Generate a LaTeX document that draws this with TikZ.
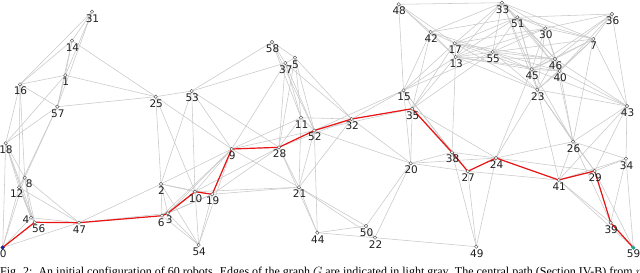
\documentclass[tikz,border=0pt]{standalone}
\usepackage{fontspec}
\newfontfamily\lblfont{DejaVu Sans}
\newfontfamily\capfont{Liberation Serif}
\definecolor{edgegray}{RGB}{200,200,200}
\definecolor{nodegray}{RGB}{95,95,95}
\definecolor{pathred}{RGB}{235,20,20}
\definecolor{startblue}{RGB}{20,30,150}
\definecolor{goalteal}{RGB}{30,170,150}
\begin{document}
\begin{tikzpicture}[x=1pt,y=-1pt,
  edge/.style={draw=edgegray, line width=0.55pt},
  cpath/.style={draw=pathred, line width=1.2pt, line join=round},
  rob/.style={circle, draw=nodegray, fill=white, line width=0.45pt, inner sep=0pt, minimum size=3.4pt},
  lbl/.style={font=\lblfont\fontsize{10.5}{12}\selectfont, inner sep=0pt, text=black!88},
  captext/.style={font=\capfont\fontsize{12}{14}\selectfont, inner sep=0pt, anchor=base west}]
\useasboundingbox (0,0) rectangle (640,273);
\clip (0,0) rectangle (640,273);
\def\robots{0/2.7/247.5/0.6/6.5, 1/65.3/75.3/0.5/6.6, 2/161/184/0.5/6.6, 3/167.7/213.3/1.6/6,
 4/31/217.7/-5/2.3, 5/295/57.7/0.5/6.6, 6/162/215.7/-0.7/7, 7/593.3/39/0.5/6.6,
 8/24.7/177.7/4.6/5.6, 9/231.7/149/0.5/6.6, 10/195/191.7/0.5/6.6, 11/301/117.7/0.5/6.6,
 12/19/187.3/-2.3/6, 13/455.7/57/0.5/6.6, 14/72/40.7/0.5/6.6, 15/403.5/90.3/0.5/6.6,
 16/20/84.3/0.5/6.6, 17/454.7/43.3/0.5/6.6, 18/5.7/143.3/0.3/6.5, 19/212.2/194.3/0.5/6.6,
 20/410.7/163.3/0.5/6.6, 21/299/187.3/0.5/6.6, 22/375/237.7/0.5/6.6, 23/537.3/89.7/0.5/6.6,
 24/496/158/0.5/6.6, 25/155.7/96.7/0.5/6.6, 26/573/141.7/0.5/6.6, 27/467.7/171.3/0.5/6.6,
 28/279/147.3/0.5/6.6, 29/594.7/171/0.5/6.6, 30/545.3/28.3/0.5/6.6, 31/92/11.7/0.5/6.6,
 32/351.7/119/0.5/6.6, 33/502/2.7/0.5/6.6, 34/626/158.7/0.5/6.6, 35/412.2/108.7/0.5/6.6,
 36/612/14/0.5/6.6, 37/285.3/63/0.5/6.6, 38/452/152.3/0.5/6.6, 39/610.7/222.7/0.5/6.6,
 40/559.7/71/0.5/6.6, 41/558.7/180/0.5/6.6, 42/430.7/32/0.5/6.6, 43/627/106/0.5/6.6,
 44/317.3/232.7/0.5/6.6, 45/531.7/69.3/0.5/6.6, 46/555/59/0.5/6.6, 47/79/222.7/0.5/6.6,
 48/398.7/4.3/0.5/6.6, 49/476.3/246.7/0.5/6.6, 50/366/226/0.5/6.6, 51/517.3/17.3/0.5/6.6,
 52/314.3/130.5/0.5/6.6, 53/191.7/91/0.5/6.6, 54/198.7/245/0.5/6.6, 55/492.7/52/0.5/6.6,
 56/34.7/222.3/4/6.7, 57/57.3/106.7/0.5/6.6, 58/272/42/0.5/6.6, 59/633.3/247.7/0.2/6.4}
\def\rad{105}
% positions
\foreach \k/\x/\y/\dx/\dy in \robots {
  \coordinate (c\k) at (\x,\y);
  \expandafter\xdef\csname rx\k\endcsname{\x}
  \expandafter\xdef\csname ry\k\endcsname{\y}
}
% edges of G (robots within communication range)
\foreach \i in {0,...,58}{
  \pgfmathtruncatemacro\jstart{\i+1}
  \foreach \j in {\jstart,...,59}{
    \pgfmathsetmacro\dd{veclen(\csname rx\i\endcsname-\csname rx\j\endcsname,\csname ry\i\endcsname-\csname ry\j\endcsname)}
    \ifdim\dd pt<\rad pt \draw[edge] (c\i) -- (c\j);\fi
  }
}
% central path
\draw[cpath] (c0) -- (c56) -- (c47) -- (c6) -- (c3) -- (c10) -- (c19) -- (c9) -- (c28) -- (c52)
  -- (c32) -- (c35) -- (c38) -- (c27) -- (c24) -- (c41) -- (c29) -- (c39) -- (c59);
% robots and labels
\foreach \k/\x/\y/\dx/\dy in \robots {
  \node[rob] (n\k) at (c\k) {};
  \node[lbl] (l\k) at (\x+\dx,\y+\dy) {\k};
}
\node[rob, fill=startblue, draw=startblue] at (c0) {};
\node[rob, fill=goalteal, draw=goalteal] at (c59) {};
% caption (cut by the lower edge, as in the reference)
\node[captext] (caption) at (0,275.5) {Fig. 2:\ \ An initial configuration of 60 robots. Edges of the graph $G$ are indicated in light gray. The central path (Section IV-B) from $r_s$ to};
\end{tikzpicture}
\end{document}
